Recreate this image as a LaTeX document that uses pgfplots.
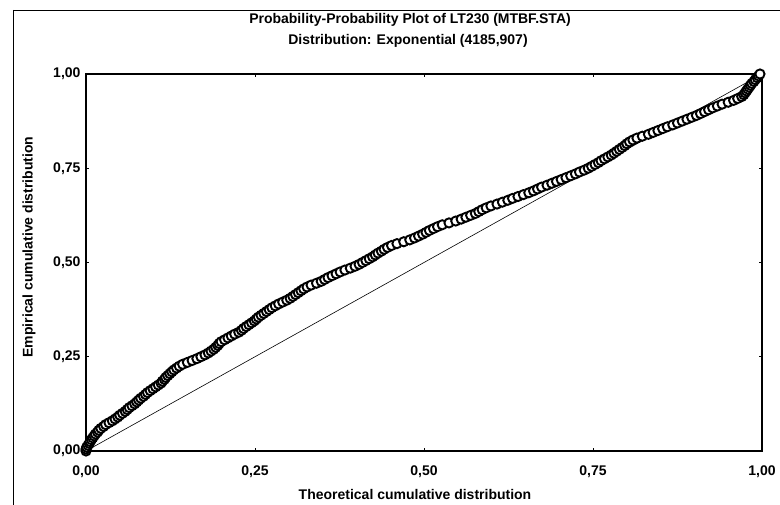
\documentclass[border=0pt]{standalone}
\usepackage{fontspec}
\setmainfont{Liberation Sans}
\usepackage{pgfplots}
\usepackage{pgfplotstable}
\pgfplotsset{compat=1.18}
\pgfplotstableread{
x y
0.000 0.000
0.000 0.005
0.001 0.010
0.003 0.015
0.005 0.020
0.006 0.025
0.008 0.030
0.010 0.035
0.012 0.040
0.014 0.045
0.017 0.050
0.019 0.055
0.022 0.060
0.026 0.065
0.029 0.070
0.034 0.075
0.039 0.080
0.043 0.085
0.047 0.090
0.050 0.095
0.054 0.100
0.058 0.105
0.061 0.110
0.064 0.115
0.068 0.120
0.072 0.125
0.075 0.130
0.078 0.135
0.081 0.140
0.085 0.145
0.088 0.150
0.091 0.155
0.095 0.160
0.099 0.165
0.103 0.170
0.107 0.175
0.111 0.180
0.113 0.185
0.116 0.190
0.118 0.195
0.121 0.200
0.124 0.205
0.127 0.210
0.130 0.215
0.134 0.220
0.138 0.225
0.143 0.230
0.150 0.235
0.157 0.240
0.164 0.245
0.170 0.250
0.176 0.255
0.181 0.260
0.185 0.265
0.189 0.270
0.192 0.275
0.195 0.280
0.197 0.285
0.200 0.290
0.205 0.295
0.210 0.300
0.215 0.305
0.220 0.310
0.226 0.315
0.230 0.320
0.233 0.325
0.237 0.330
0.241 0.335
0.245 0.340
0.249 0.345
0.252 0.350
0.255 0.355
0.259 0.360
0.263 0.365
0.267 0.370
0.271 0.375
0.275 0.380
0.280 0.385
0.285 0.390
0.291 0.395
0.297 0.400
0.302 0.405
0.306 0.410
0.310 0.415
0.314 0.420
0.318 0.425
0.322 0.430
0.327 0.435
0.333 0.440
0.341 0.445
0.348 0.450
0.353 0.455
0.358 0.460
0.364 0.465
0.370 0.470
0.376 0.475
0.383 0.480
0.391 0.485
0.398 0.490
0.404 0.495
0.409 0.500
0.414 0.505
0.419 0.510
0.424 0.515
0.428 0.520
0.432 0.525
0.437 0.530
0.441 0.535
0.446 0.540
0.452 0.545
0.460 0.550
0.470 0.555
0.479 0.560
0.486 0.565
0.492 0.570
0.498 0.575
0.503 0.580
0.508 0.585
0.514 0.590
0.520 0.595
0.527 0.600
0.537 0.605
0.547 0.610
0.555 0.615
0.562 0.620
0.569 0.625
0.576 0.630
0.581 0.635
0.586 0.640
0.592 0.645
0.599 0.650
0.608 0.655
0.616 0.660
0.624 0.665
0.631 0.670
0.639 0.675
0.647 0.680
0.655 0.685
0.662 0.690
0.668 0.695
0.674 0.700
0.682 0.705
0.689 0.710
0.696 0.715
0.703 0.720
0.710 0.725
0.717 0.730
0.724 0.735
0.730 0.740
0.737 0.745
0.743 0.750
0.748 0.755
0.753 0.760
0.758 0.765
0.762 0.770
0.767 0.775
0.772 0.780
0.777 0.785
0.781 0.790
0.785 0.795
0.789 0.800
0.793 0.805
0.797 0.810
0.800 0.815
0.804 0.820
0.809 0.825
0.815 0.830
0.823 0.835
0.832 0.840
0.839 0.845
0.846 0.850
0.853 0.855
0.860 0.860
0.868 0.865
0.875 0.870
0.882 0.875
0.889 0.880
0.896 0.885
0.903 0.890
0.909 0.895
0.915 0.900
0.921 0.905
0.927 0.910
0.934 0.915
0.941 0.920
0.950 0.925
0.958 0.930
0.964 0.935
0.970 0.940
0.973 0.945
0.975 0.950
0.977 0.955
0.979 0.960
0.981 0.965
0.983 0.970
0.985 0.975
0.988 0.980
0.990 0.985
0.993 0.990
0.995 0.995
0.997 1.000
}\ppdata
\begin{document}
\begin{tikzpicture}[x=1pt,y=1pt]
\useasboundingbox (0,0) rectangle (780,505);
\draw[line width=0.8pt] (13,495) -- (780,495);
\draw[line width=0.8pt] (13,495) -- (13,0);
\begin{axis}[
  at={(86pt,54pt)}, anchor=south west,
  width=676pt, height=377pt, scale only axis,
  xmin=0, xmax=1, ymin=0, ymax=1,
  xtick={0,0.25,0.5,0.75,1}, ytick={0,0.25,0.5,0.75,1},
  tick align=inside, major tick length=3pt,
  axis line style={line width=1.3pt},
  tick style={line width=0.8pt, black},
  /pgf/number format/.cd, fixed, fixed zerofill, precision=2, use comma, assume math mode=true,
  /pgfplots/.cd,
  ticklabel style={font=\bfseries\fontsize{14}{16}\selectfont},
  xticklabel style={yshift=-11pt},
  yticklabel style={xshift=-2pt},
  clip=false,
]
\addplot[black, line width=0.6pt] coordinates {(0,0) (1,1)};
\addplot[only marks, mark=*, mark size=4.6pt, mark options={draw=black, fill=white, line width=1.9pt}] table[x=x, y=y] {\ppdata};
\end{axis}
\node[font=\bfseries\fontsize{14}{16}\selectfont] at (410,485) {Probability-Probability Plot of LT230 (MTBF.STA)};
\node[font=\bfseries\fontsize{14}{16}\selectfont] at (408,464) {Distribution: Exponential (4185,907)};
\node[font=\bfseries\fontsize{14}{16}\selectfont] at (415,10) {Theoretical cumulative distribution};
\node[font=\bfseries\fontsize{14}{16}\selectfont, rotate=90] at (29,258) {Empirical cumulative distribution};
\end{tikzpicture}
\end{document}
